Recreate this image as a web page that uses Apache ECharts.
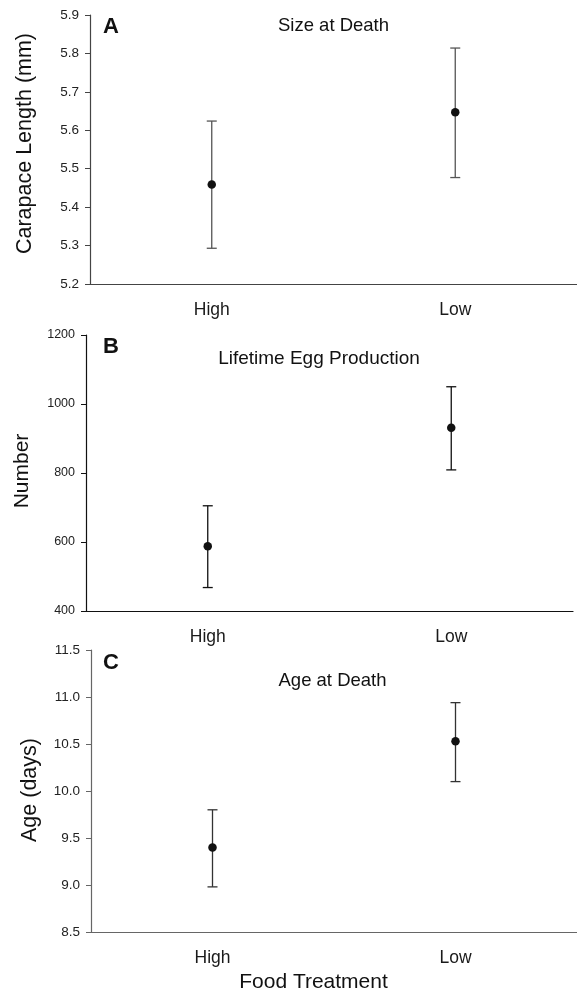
<!DOCTYPE html>
<html>
<head>
<meta charset="utf-8">
<script src="https://cdn.jsdelivr.net/npm/echarts@6/dist/echarts.min.js"></script>
<style>
  html, body { margin: 0; padding: 0; background: #fff; }
  #chart { width: 577px; height: 992px; }
</style>
</head>
<body>
<div id="chart"></div>
<script>
// categories and values
const categories = ['High', 'Low'];

const sizeMean = [5.459, 5.647];
const sizeLow = [5.293, 5.477];
const sizeHigh = [5.624, 5.814];

const eggMean = [588, 931];
const eggLow = [468, 809];
const eggHigh = [705, 1050];

const ageMean = [9.40, 10.53];
const ageLow = [8.98, 10.10];
const ageHigh = [9.80, 10.94];

// y axis ranges (min, max, step)
const sizeTicks = [5.2, 5.9, 0.1];
const eggTicks = [400, 1200, 200];
const ageTicks = [8.5, 11.5, 0.5];

const FONT = '"Liberation Sans", Arial, sans-serif';

var chart = echarts.init(document.getElementById('chart'));

function xAx(grid, color) {
    return {
        type: 'category', gridIndex: grid, data: categories, boundaryGap: true,
        axisLine: { lineStyle: { color: color, width: 1.2 } },
        axisTick: { alignWithLabel: true, length: 4, lineStyle: { color: color } },
        axisLabel: { color: '#1a1a1a', fontSize: 17.5, fontFamily: FONT, margin: 17 },
        splitLine: { show: false }
    };
}

function yAx(grid, ticks, color, fs, dec) {
    return {
        type: 'value', gridIndex: grid, min: ticks[0], max: ticks[1], interval: ticks[2],
        axisLine: { show: true, lineStyle: { color: color, width: 1.2 } },
        axisTick: { show: true, length: 5, lineStyle: { color: color } },
        axisLabel: {
            color: '#222', fontSize: fs, fontFamily: FONT, margin: 11,
            formatter: function (v) { return dec ? v.toFixed(dec) : String(v); }
        },
        splitLine: { show: false }
    };
}

function errBars(grid, lo, hi, color) {
    return {
        type: 'custom', xAxisIndex: grid, yAxisIndex: grid,
        data: lo.map(function (v, i) { return [i, v, hi[i]]; }),
        encode: { x: 0, y: [1, 2] },
        renderItem: function (params, api) {
            var x = api.value(0);
            var a = api.coord([x, api.value(1)]);
            var b = api.coord([x, api.value(2)]);
            var hw = 5;
            var st = { stroke: color, lineWidth: 1.3 };
            return {
                type: 'group',
                children: [
                    { type: 'line', shape: { x1: a[0], y1: a[1], x2: b[0], y2: b[1] }, style: st },
                    { type: 'line', shape: { x1: a[0] - hw, y1: a[1], x2: a[0] + hw, y2: a[1] }, style: st },
                    { type: 'line', shape: { x1: b[0] - hw, y1: b[1], x2: b[0] + hw, y2: b[1] }, style: st }
                ]
            };
        },
        z: 2
    };
}

function points(grid, vals) {
    return {
        type: 'scatter', xAxisIndex: grid, yAxisIndex: grid, data: vals,
        symbol: 'circle', symbolSize: 8.5,
        itemStyle: { color: '#111', opacity: 1 }, z: 3
    };
}

function txt(x, y, s, size, bold, rot) {
    return {
        type: 'text', x: x, y: y, rotation: rot || 0,
        style: {
            text: s, fill: '#111', font: (bold ? 'bold ' : '') + size + 'px ' + FONT,
            textAlign: 'center', textVerticalAlign: 'middle'
        }
    };
}

var option = {
    backgroundColor: '#fff',
    animation: false,
    grid: [
        { left: 90, top: 15, width: 487, height: 269 },
        { left: 86, top: 335, width: 487, height: 276 },
        { left: 91, top: 650, width: 486, height: 282 }
    ],
    xAxis: [xAx(0, '#444'), xAx(1, '#111'), xAx(2, '#666')],
    yAxis: [
        yAx(0, sizeTicks, '#444', 13.5, 1),
        yAx(1, eggTicks, '#111', 12.5, 0),
        yAx(2, ageTicks, '#666', 13.5, 1)
    ],
    series: [
        errBars(0, sizeLow, sizeHigh, '#555'), points(0, sizeMean),
        errBars(1, eggLow, eggHigh, '#111'), points(1, eggMean),
        errBars(2, ageLow, ageHigh, '#333'), points(2, ageMean)
    ],
    graphic: [
        txt(111, 27, 'A', 22, true),
        txt(111, 347, 'B', 22, true),
        txt(111, 663, 'C', 22, true),
        txt(333.5, 26, 'Size at Death', 18.5),
        txt(319, 359, 'Lifetime Egg Production', 19),
        txt(332.5, 681, 'Age at Death', 18.5),
        txt(25, 143.5, 'Carapace Length (mm)', 21.5, false, Math.PI / 2),
        txt(22.5, 471, 'Number', 21, false, Math.PI / 2),
        txt(30.5, 790, 'Age (days)', 21.5, false, Math.PI / 2),
        txt(313.5, 982, 'Food Treatment', 21)
    ]
};

chart.setOption(option);
</script>
</body>
</html>
